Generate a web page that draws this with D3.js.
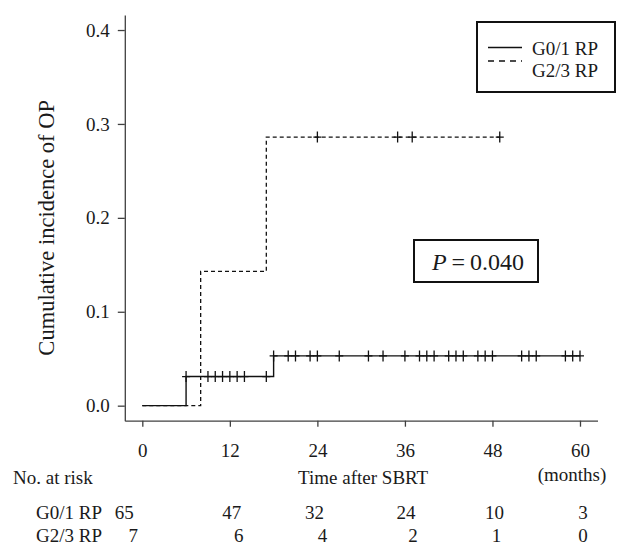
<!DOCTYPE html>
<html>
<head>
<meta charset="utf-8">
<script src="https://cdn.jsdelivr.net/npm/d3@7"></script>
<style>
  html, body { margin: 0; padding: 0; background: #fff; }
  svg { display: block; }
  text { font-family: "Liberation Serif", "Times New Roman", serif; fill: #1a1a1a; }
</style>
</head>
<body>
<svg id="chart" width="617" height="546"></svg>
<script>
// ---- data ----
const timeTicks = [0, 12, 24, 36, 48, 60];
const yTicks = [0.0, 0.1, 0.2, 0.3, 0.4];
const groupNames = ["G0/1 RP", "G2/3 RP"];

// step curves (time in months, cumulative incidence)
const g01Times = [0, 6, 18, 60];
const g01Values = [0, 0.031, 0.053, 0.053];
const g23Times = [0, 8, 17, 49];
const g23Values = [0, 0.143, 0.286, 0.286];

// censoring times
const g01Censor = [6, 9, 10, 11, 12, 13, 14, 17, 18, 20, 21, 23, 24, 27, 31, 33, 36,
                   38, 39, 40, 42, 43, 44, 46, 47, 48, 52, 53, 54, 58, 59, 60];
const g23Censor = [24, 35, 37, 49];

// number at risk
const riskG01 = [65, 47, 32, 24, 10, 3];
const riskG23 = [7, 6, 4, 2, 1, 0];

const pText = "0.040";

// ---- layout ----
const svg = d3.select("#chart");
const FS = 19;

// R-style 4% axis expansion
const x = d3.scaleLinear().domain([-2.4, 62.4]).range([124.8, 597.5]);
const y = d3.scaleLinear().domain([-0.016, 0.416]).range([420.7, 15]);

const axisColor = "#404040";

// y axis
const yAxis = svg.append("g")
  .attr("transform", `translate(${x.range()[0]},0)`)
  .call(d3.axisLeft(y).tickValues(yTicks).tickFormat(d3.format(".1f"))
        .tickSize(7).tickSizeOuter(0).tickPadding(8));
yAxis.selectAll("path,line").attr("stroke", axisColor).attr("stroke-width", 1.3);
yAxis.selectAll("text").attr("font-size", FS).attr("font-family", "Liberation Serif, serif").attr("fill", "#1a1a1a");

// x axis
const xAxis = svg.append("g")
  .attr("transform", `translate(0,${y.range()[0]})`)
  .call(d3.axisBottom(x).tickValues(timeTicks).tickFormat(d3.format("d"))
        .tickSize(6).tickSizeOuter(0).tickPadding(17));
xAxis.selectAll("path,line").attr("stroke", axisColor).attr("stroke-width", 1.3);
xAxis.selectAll("text").attr("font-size", FS).attr("font-family", "Liberation Serif, serif").attr("fill", "#1a1a1a");

// y axis title
svg.append("text")
  .attr("transform", `translate(46,${(y(0) + y(0.4)) / 2 + 10}) rotate(-90)`)
  .attr("text-anchor", "middle")
  .attr("dominant-baseline", "central")
  .attr("font-size", 22.5)
  .text("Cumulative incidence of OP");

// ---- curves ----
const line = d3.line()
  .x(d => x(d[0]))
  .y(d => y(d[1]))
  .curve(d3.curveStepAfter);

const g01 = g01Times.map((t, i) => [t, g01Values[i]]);
const g23 = g23Times.map((t, i) => [t, g23Values[i]]);

svg.append("path")
  .datum(g23)
  .attr("d", line)
  .attr("fill", "none")
  .attr("stroke", "#111")
  .attr("stroke-width", 1.3)
  .attr("stroke-dasharray", "4,3");

svg.append("path")
  .datum(g01)
  .attr("d", line)
  .attr("fill", "none")
  .attr("stroke", "#111")
  .attr("stroke-width", 1.4);

// value of a step function at time t
function stepValue(times, values, t) {
  let v = values[0];
  for (let i = 0; i < times.length; i++) if (times[i] <= t) v = values[i];
  return v;
}

function drawCensor(times, values, censor) {
  svg.append("g").selectAll("path")
    .data(censor)
    .join("path")
    .attr("d", t => {
      const cx = x(t), cy = y(stepValue(times, values, t));
      return `M${cx - 4},${cy}H${cx + 4}M${cx},${cy - 5.5}V${cy + 5.5}`;
    })
    .attr("stroke", "#111")
    .attr("stroke-width", 1.3)
    .attr("fill", "none");
}
drawCensor(g01Times, g01Values, g01Censor);
drawCensor(g23Times, g23Values, g23Censor);

// ---- legend ----
const leg = svg.append("g");
leg.append("rect")
  .attr("x", 477).attr("y", 22).attr("width", 138).attr("height", 70)
  .attr("fill", "#fff").attr("stroke", "#111").attr("stroke-width", 2);
const legY = [47.5, 61];
const legTextY = [48, 70];
leg.append("line").attr("x1", 488).attr("x2", 522).attr("y1", legY[0]).attr("y2", legY[0])
  .attr("stroke", "#111").attr("stroke-width", 1.3);
leg.append("line").attr("x1", 488).attr("x2", 522).attr("y1", legY[1]).attr("y2", legY[1])
  .attr("stroke", "#111").attr("stroke-width", 1.3).attr("stroke-dasharray", "6,5");
groupNames.forEach((n, i) => {
  leg.append("text").attr("x", 532).attr("y", legTextY[i])
    .attr("dominant-baseline", "central").attr("font-size", FS).text(n);
});

// ---- P value box ----
svg.append("rect")
  .attr("x", 414).attr("y", 240).attr("width", 124).attr("height", 42)
  .attr("fill", "#fff").attr("stroke", "#111").attr("stroke-width", 2);
const pt = svg.append("text")
  .attr("x", 478).attr("y", 262)
  .attr("text-anchor", "middle")
  .attr("dominant-baseline", "central")
  .attr("font-size", 24);
pt.append("tspan").attr("font-style", "italic").text("P");
pt.append("tspan").text("\u2009=\u2009" + pText);

// ---- risk table ----
svg.append("text").attr("x", 13).attr("y", 477).attr("dominant-baseline", "central")
  .attr("font-size", FS).text("No. at risk");
svg.append("text").attr("x", x(30) + 2).attr("y", 477).attr("text-anchor", "middle")
  .attr("dominant-baseline", "central").attr("font-size", FS).text("Time after SBRT");
svg.append("text").attr("x", x(60) - 8).attr("y", 474).attr("text-anchor", "middle")
  .attr("dominant-baseline", "central").attr("font-size", FS).text("(months)");

const rowY = [512, 535];
const rowDx = [[-18, 2, -3, 1, 2, 3], [-9, 9, 5, 8, 4, 3]];
[riskG01, riskG23].forEach((row, r) => {
  svg.append("text").attr("x", 36).attr("y", rowY[r]).attr("dominant-baseline", "central")
    .attr("font-size", FS).text(groupNames[r]);
  svg.append("g").selectAll("text")
    .data(row)
    .join("text")
    .attr("x", (d, i) => x(timeTicks[i]) + rowDx[r][i])
    .attr("y", rowY[r])
    .attr("text-anchor", "middle")
    .attr("dominant-baseline", "central")
    .attr("font-size", FS)
    .text(d => d);
});
</script>
</body>
</html>
